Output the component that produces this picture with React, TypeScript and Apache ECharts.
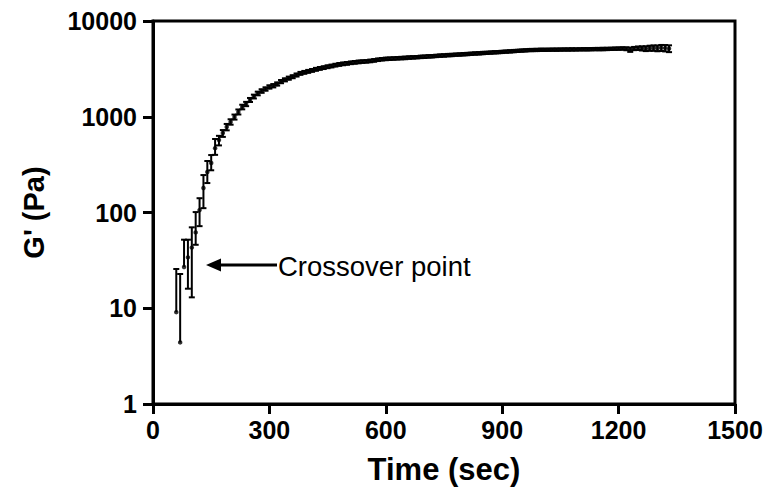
import React, { useEffect, useRef } from "react";
import * as echarts from "echarts";

const TIME = [
  60, 70, 80, 90, 100, 110, 120, 130, 140, 150, 160, 170, 180, 190, 200, 210, 220, 230, 240, 250,
  260, 270, 280, 290, 300, 310, 320, 330, 340, 350, 360, 370, 380, 390, 400, 410, 420, 430, 440, 450,
  460, 470, 480, 490, 500, 510, 520, 530, 540, 550, 560, 570, 580, 590, 600, 610, 620, 630, 640, 650,
  660, 670, 680, 690, 700, 710, 720, 730, 740, 750, 760, 770, 780, 790, 800, 810, 820, 830, 840, 850,
  860, 870, 880, 890, 900, 910, 920, 930, 940, 950, 960, 970, 980, 990, 1000, 1010, 1020, 1030, 1040, 1050,
  1060, 1070, 1080, 1090, 1100, 1110, 1120, 1130, 1140, 1150, 1160, 1170, 1180, 1190, 1200, 1210, 1220, 1230, 1240, 1250,
  1260, 1270, 1280, 1290, 1300, 1310, 1320, 1330,
];

const G_PRIME = [
  9.1, 4.4, 27, 34, 43, 62, 106, 180, 265, 329, 470, 572, 676, 781, 881, 994, 1121, 1265, 1360, 1496,
  1627, 1749, 1858, 1950, 2046, 2110, 2200, 2330, 2430, 2530, 2620, 2730, 2840, 2910, 2980, 3050, 3130, 3200, 3260, 3330,
  3390, 3460, 3520, 3570, 3610, 3660, 3700, 3740, 3770, 3790, 3830, 3880, 3940, 3990, 4020, 4040, 4060, 4080, 4100, 4120,
  4150, 4170, 4190, 4220, 4240, 4270, 4290, 4320, 4350, 4370, 4400, 4420, 4450, 4470, 4500, 4520, 4550, 4580, 4600, 4630,
  4650, 4680, 4710, 4730, 4760, 4790, 4820, 4850, 4880, 4910, 4940, 4970, 4980, 4990, 5000, 5000, 5010, 5020, 5020, 5030,
  5040, 5040, 5050, 5050, 5060, 5070, 5070, 5080, 5090, 5090, 5100, 5110, 5120, 5140, 5150, 5170, 5130, 5020, 5160, 5200,
  5180, 5150, 5200, 5220, 5190, 5240, 5210, 5150,
];

// error bars: first 27 points asymmetric (as drawn), remaining 101 symmetric
const ERR_UP_EARLY = [16.6, 18.4, 25, 18, 27, 39, 35, 66, 80, 69, 116, 60, 50, 60, 60, 60, 70, 70, 70, 75, 75, 80, 80, 80, 85, 85, 85];
const ERR_DOWN_EARLY = [0, 0, 0, 18, 30, 16, 34, 69, 62, 53, 70, 70, 60, 60, 55, 60, 65, 70, 70, 70, 75, 75, 80, 80, 80, 85, 85];
const ERR_REST = [
  90, 90, 95, 95, 100, 100, 100, 105, 105, 110, 110, 110, 115, 115, 115, 120, 120, 120, 118, 122,
  125, 120, 118, 124, 126, 122, 120, 125, 128, 124, 122, 126, 130, 128, 125, 122, 126, 130, 132, 128,
  125, 130, 134, 130, 128, 126, 132, 135, 130, 128, 134, 136, 132, 130, 135, 138, 134, 132, 136, 140,
  135, 132, 138, 140, 136, 134, 140, 142, 138, 136, 140, 145, 140, 138, 142, 146, 140, 138, 144, 148,
  146, 142, 148, 150, 146, 144, 150, 152,
  150, 180, 260, 200, 220, 260, 300, 320, 340, 360, 380, 400, 420,
];
const ERR_UP = [...ERR_UP_EARLY, ...ERR_REST];
const ERR_DOWN = [...ERR_DOWN_EARLY, ...ERR_REST];

const X_TICKS = [0, 300, 600, 900, 1200, 1500];
const Y_TICKS = [1, 10, 100, 1000, 10000];

const FONT = "'Liberation Sans', Arial, Helvetica, sans-serif";

export default function App() {
  const ref = useRef<HTMLDivElement>(null);

  useEffect(() => {
    document.body.style.margin = "0";
    if (!ref.current) return;
    const chart = echarts.init(ref.current, null, { renderer: "svg" });

    const points = TIME.map((t, i) => [t, G_PRIME[i]]);
    const bars = TIME.map((t, i) => [
      t,
      G_PRIME[i] - ERR_DOWN[i],
      G_PRIME[i] + ERR_UP[i],
      ERR_DOWN[i] > 0 ? 1 : 0,
    ]);

    const option: any = {
      animation: false,
      backgroundColor: "#fff",
      grid: {
        left: 153,
        right: 35,
        top: 21,
        bottom: 91,
        show: true,
        borderColor: "#000",
        borderWidth: 3,
        backgroundColor: "transparent",
        containLabel: false,
        outerBoundsMode: "none",
      },
      xAxis: {
        type: "value",
        min: X_TICKS[0],
        max: X_TICKS[X_TICKS.length - 1],
        interval: X_TICKS[1] - X_TICKS[0],
        name: "Time (sec)",
        nameLocation: "middle",
        nameGap: 50,
        nameTextStyle: { fontFamily: FONT, fontWeight: "bold", fontSize: 31, color: "#000" },
        axisLine: { onZero: false, lineStyle: { color: "#000", width: 3 } },
        axisTick: { show: true, inside: false, length: 10, lineStyle: { color: "#000", width: 3 } },
        axisLabel: {
          margin: 13,
          fontFamily: FONT,
          fontWeight: "bold",
          fontSize: 25,
          color: "#000",
          formatter: (v: number) => String(v),
        },
        splitLine: { show: false },
      },
      yAxis: {
        type: "log",
        logBase: 10,
        min: Y_TICKS[0],
        max: Y_TICKS[Y_TICKS.length - 1],
        name: "G' (Pa)",
        nameLocation: "middle",
        nameGap: 105,
        nameRotate: 90,
        nameTextStyle: { fontFamily: FONT, fontWeight: "bold", fontSize: 29, color: "#000" },
        axisLine: { onZero: false, lineStyle: { color: "#000", width: 3 } },
        axisTick: { show: true, inside: false, length: 10, lineStyle: { color: "#000", width: 3 } },
        axisLabel: {
          margin: 16,
          fontFamily: FONT,
          fontWeight: "bold",
          fontSize: 25,
          color: "#000",
          formatter: (v: number) => String(Math.round(v)),
        },
        splitLine: { show: false },
        minorTick: { show: false },
      },
      series: [
        {
          type: "custom",
          name: "err",
          data: bars,
          encode: { x: 0, y: [1, 2] },
          z: 2,
          renderItem: (params: any, api: any) => {
            const x = api.value(0);
            const lo = api.value(1);
            const hi = api.value(2);
            const hasLow = api.value(3);
            const pHi = api.coord([x, hi]);
            const pLo = api.coord([x, lo]);
            const cap = 3;
            const style = { stroke: "#000", lineWidth: 2 };
            const children: any[] = [
              { type: "line", shape: { x1: pHi[0], y1: pHi[1], x2: pLo[0], y2: pLo[1] }, style },
              { type: "line", shape: { x1: pHi[0] - cap, y1: pHi[1], x2: pHi[0] + cap, y2: pHi[1] }, style },
            ];
            if (hasLow) {
              children.push({
                type: "line",
                shape: { x1: pLo[0] - cap, y1: pLo[1], x2: pLo[0] + cap, y2: pLo[1] },
                style,
              });
            }
            return { type: "group", children };
          },
        },
        {
          type: "scatter",
          name: "G'",
          data: points,
          symbol: "circle",
          symbolSize: 4.5,
          itemStyle: { color: "#000" },
          z: 3,
        },
      ],
      graphic: [
        {
          type: "line",
          shape: { x1: 218, y1: 265, x2: 277, y2: 265 },
          style: { stroke: "#000", lineWidth: 3 },
        },
        {
          type: "polygon",
          shape: { points: [[206, 265], [221, 258.5], [221, 271.5]] },
          style: { fill: "#000" },
        },
        {
          type: "text",
          left: 278,
          top: 252,
          style: {
            text: "Crossover point",
            fontFamily: FONT,
            fontSize: 27.5,
            fill: "#000",
          },
        },
      ],
    };

    chart.setOption(option);
    return () => chart.dispose();
  }, []);

  return <div ref={ref} style={{ width: 770, height: 495 }} />;
}
